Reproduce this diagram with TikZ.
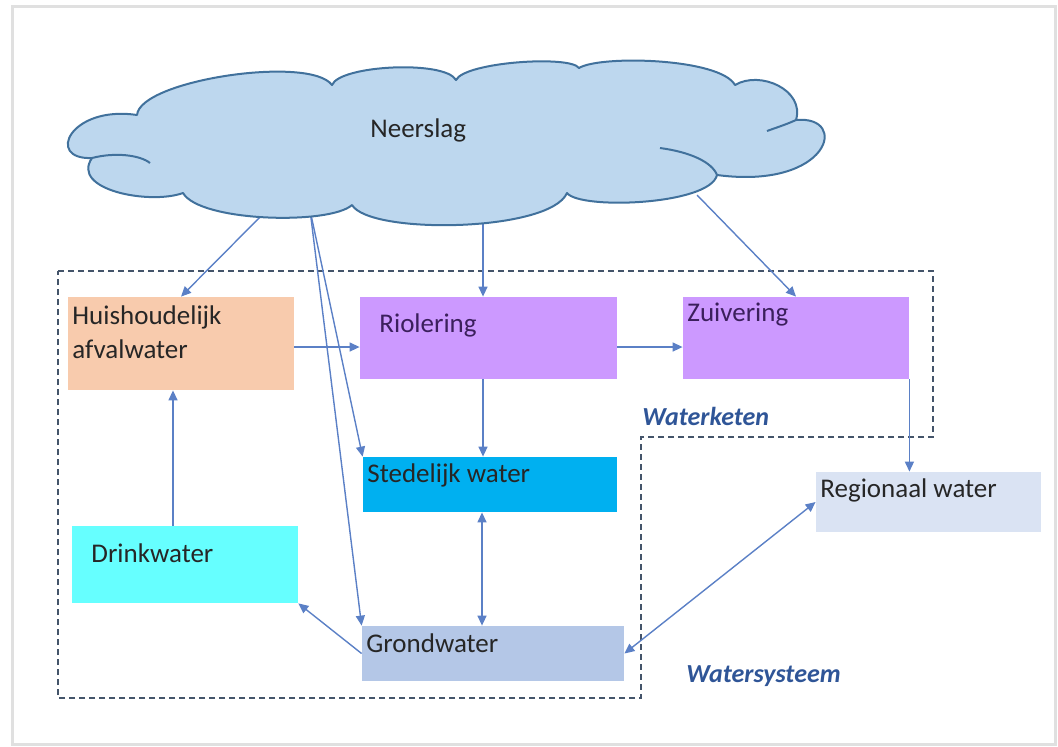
\documentclass[tikz,border=0pt]{standalone}
\usepackage{fontspec}
\setmainfont{Carlito}
\usetikzlibrary{arrows.meta}
\definecolor{wolk}{HTML}{BDD7EE}
\definecolor{wolkrand}{HTML}{41719C}
\definecolor{pijl}{HTML}{5B80C6}
\definecolor{streep}{HTML}{44546A}
\definecolor{c-huis}{HTML}{F8CBAD}
\definecolor{c-lila}{HTML}{CC99FF}
\definecolor{c-sted}{HTML}{00B0F0}
\definecolor{c-drink}{HTML}{66FFFF}
\definecolor{c-grond}{HTML}{B4C7E7}
\definecolor{c-regio}{HTML}{DAE3F3}
\definecolor{c-label}{HTML}{2F5597}
\definecolor{paars}{HTML}{3B1F5C}
\begin{document}
\begin{tikzpicture}[x=.5pt,y=-.5pt,font=\fontsize{13.5}{17}\selectfont,
  >={Triangle[length=5pt,width=4.5pt]},
  box/.style={fill=#1,inner sep=0},
  txt/.style={anchor=base west,inner sep=0,text=black!85},
  flow/.style={draw=pijl,line width=.7pt}]
\useasboundingbox (0,0) rectangle (1058,746);
\draw[black!12,line width=1.5pt] (12,6) rectangle (1055,744);
% waterketen / watersysteem
\draw[streep,line width=1.1pt,dash pattern=on 3pt off 2pt] (58,271) -- (933,271) -- (933,437)
  -- (641,437) -- (641,698) -- (58,698) -- cycle;
% boxes
\node[box=c-huis,minimum width=113pt,minimum height=46.5pt] (huis) at (181,343.5) {};
\node[box=c-lila,minimum width=128.5pt,minimum height=41pt] (riool) at (488.5,338) {};
\node[box=c-lila,minimum width=113pt,minimum height=41pt] (zuiv) at (796,338) {};
\node[box=c-sted,minimum width=127pt,minimum height=27.5pt] (sted) at (490,484.5) {};
\node[box=c-regio,minimum width=112.5pt,minimum height=30pt] (regio) at (928.5,502) {};
\node[box=c-drink,minimum width=113pt,minimum height=38.5pt] (drink) at (185,564.5) {};
\node[box=c-grond,minimum width=131pt,minimum height=27.5pt] (grond) at (493,653.5) {};
\node[txt,align=left] (huis-t) at (72,358) {Huishoudelijk\\afvalwater};
\node[txt,text=paars] (riool-t) at (379,332) {Riolering};
\node[txt,text=paars] (zuiv-t) at (687,321) {Zuivering};
\node[txt] (sted-t) at (367,482) {Stedelijk water};
\node[txt] (regio-t) at (820,497) {Regionaal water};
\node[txt] (drink-t) at (91,562) {Drinkwater};
\node[txt] (grond-t) at (366,652) {Grondwater};
\node[txt,text=c-label,font=\fontsize{13}{16}\selectfont\bfseries\itshape] (keten) at (642,425) {Waterketen};
\node[txt,text=c-label,font=\fontsize{13}{16}\selectfont\bfseries\itshape] (systeem) at (686,682) {Watersysteem};
% rain
\coordinate (r1) at (267,210);
\coordinate (r2) at (310,210);
\coordinate (r3) at (483,220);
\coordinate (r4) at (697,195);
\draw[flow,->] (r1) -- (huis.north);
\draw[flow,->] (r2) -- (sted.north west);
\draw[flow,->] (r2) -- (grond.north west);
\draw[flow,->] (r3) -- ([xshift=-2.75pt]riool.north);
\draw[flow,->] (r4) -- (zuiv.north);
% flows between boxes
\draw[flow,->] ([yshift=-1.75pt]huis.east) -- ([yshift=-4.5pt]riool.west);
\draw[flow,->] ([yshift=-4.5pt]riool.east) -- ([yshift=-4.5pt]zuiv.west);
\draw[flow,->] ([xshift=-2.75pt]riool.south) -- ([xshift=-3.5pt]sted.north);
\draw[flow,->] (zuiv.south east) -- (zuiv.south east |- regio.north);
\draw[flow,->] ([xshift=-6pt]drink.north) -- ([xshift=-6pt]drink.north |- huis.south);
\draw[flow,<->] ([xshift=-4pt]sted.south) -- ([xshift=-4pt]sted.south |- grond.north);
\draw[flow,->] (grond.west) -- (drink.south east);
\draw[flow,<->] (regio.west) -- (grond.east);
% cloud
\draw[wolkrand,fill=wolk,line width=1pt,line join=round]
  (92,158) .. controls (45,160) and (70,105) .. (137,115)
  .. controls (140,80) and (310,55) .. (332,85)
  .. controls (340,65) and (445,60) .. (456,80)
  .. controls (465,62) and (570,55) .. (579,68)
  .. controls (600,55) and (720,58) .. (735,85)
  .. controls (760,70) and (805,90) .. (796,120)
  .. controls (850,115) and (830,190) .. (717,175)
  .. controls (710,205) and (580,210) .. (567,193)
  .. controls (550,232) and (370,235) .. (352,205)
  .. controls (330,225) and (200,222) .. (183,193)
  .. controls (150,205) and (70,190) .. (92,158) -- cycle;
\draw[wolkrand,line width=1pt] (92,158) .. controls (115,152) and (140,155) .. (150,163)
  (660,148) .. controls (690,152) and (712,162) .. (717,175)
  (796,120) .. controls (785,125) and (775,128) .. (767,131);
\node[txt] (neerslag) at (370,137) {Neerslag};
\end{tikzpicture}
\end{document}
